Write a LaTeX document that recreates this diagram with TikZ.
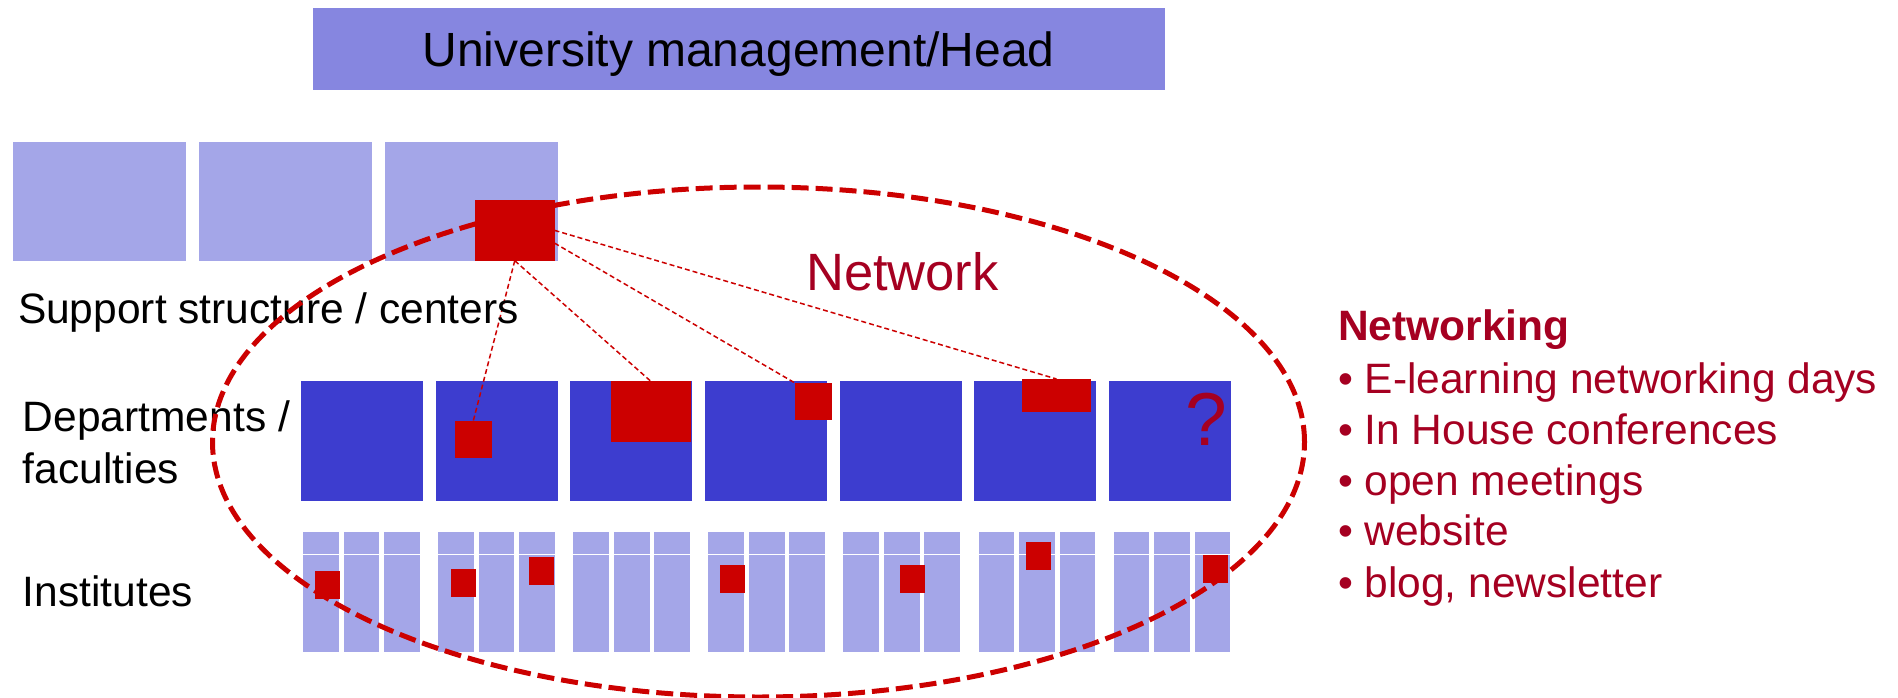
\documentclass[tikz,border=0pt]{standalone}
\usepackage{fontspec}
\setmainfont{Liberation Sans}
\usetikzlibrary{calc,shapes.geometric}
\definecolor{headblue}{RGB}{134,134,224}
\definecolor{lightblue}{RGB}{164,166,232}
\definecolor{deptblue}{RGB}{61,61,207}
\definecolor{netred}{RGB}{204,0,0}
\definecolor{darkred}{RGB}{165,0,33}
\begin{document}
\begin{tikzpicture}[x=1pt,y=-1pt,
  box/.style={inner sep=0pt,outer sep=0pt,anchor=north west,draw=none},
  headbox/.style={box,fill=headblue,minimum width=851.2pt,minimum height=81.7pt},
  supbox/.style={box,fill=lightblue,minimum width=172.8pt,minimum height=118.7pt},
  deptbox/.style={box,fill=deptblue,minimum width=122pt,minimum height=119.7pt},
  insttop/.style={box,fill=lightblue,minimum width=35.8pt,minimum height=21.6pt},
  instbot/.style={box,fill=lightblue,minimum width=35.8pt,minimum height=96.7pt},
  redsq/.style={box,fill=netred},
  instred/.style={redsq,minimum width=25pt,minimum height=27.7pt},
  link/.style={draw=netred,line width=1.5pt,dash pattern=on 5pt off 3pt},
  netellipse/.style={draw=netred,line width=5pt,dash pattern=on 17pt off 7pt,ellipse,inner sep=0pt,outer sep=0pt},
  lbl/.style={inner sep=0pt,outer sep=0pt,anchor=base west,font=\fontsize{42.5}{51}\selectfont},
  redlbl/.style={lbl,text=darkred}]
\useasboundingbox (0,0) rectangle (1898,698);
% head
\node[headbox] (head) at (313.3,8) {};
\node[inner sep=0pt,anchor=base,font=\fontsize{48}{58}\selectfont] (headtxt) at (738.5,66.7) {University management/Head};
% support structure
\node[supbox] (s1) at (12.7,142) {};
\node[supbox] (s2) at (198.8,142) {};
\node[supbox] (s3) at (384.8,142) {};
\node[redsq,minimum width=79.5pt,minimum height=60.7pt] (sr) at (475,200) {};
% departments
\foreach \k in {0,...,6}{
  \node[deptbox] (d\k) at ({301+134.67*\k},381) {};
}
\node[redsq,minimum width=36.5pt,minimum height=36.7pt] (d1r) at (455,421) {};
\node[redsq,minimum width=80pt,minimum height=61pt] (d2r) at (610.5,381) {};
\node[redsq,minimum width=36.5pt,minimum height=37pt] (d3r) at (795,383) {};
\node[redsq,minimum width=69pt,minimum height=33pt] (d5r) at (1022,379) {};
\node[inner sep=0pt,anchor=base,text=darkred,font=\fontsize{75}{80}\selectfont] (qm) at (1206,445) {?};
% institutes
\foreach \k in {0,...,6}{
  \foreach \j in {0,1,2}{
    \node[insttop] (it\k\j) at ({303+135.1*\k+40.5*\j},532) {};
    \node[instbot] (ib\k\j) at ({303+135.1*\k+40.5*\j},555) {};
  }
}
\node[instred] (r1) at (315,571) {};
\node[instred] (r2) at (451,569) {};
\node[instred] (r3) at (529,557) {};
\node[instred] (r4) at (720,565) {};
\node[instred] (r5) at (900,565) {};
\node[instred] (r6) at (1026,542) {};
\node[instred] (r7) at (1202.7,555) {};
% connectors
\draw[link] (sr.south) -- (d1r.north);
\draw[link] (sr.south) -- (d2r.north);
\draw[link] ($(sr.east)!0.42!(sr.south east)$) -- (d3r.north west);
\draw[link] (sr.east) -- (d5r.north);
% labels
\node[lbl] (suptxt) at (18,323) {Support structure / centers};
\node[lbl] (dep1) at (23,431.7) {Departments /};
\node[lbl] (dep2) at (23,483) {faculties};
\node[lbl] (insttxt) at (23,606.7) {Institutes};
\node[inner sep=0pt,anchor=base west,text=darkred,font=\fontsize{52.5}{60}\selectfont] (nettxt) at (806,290) {Network};
\node[redlbl,font=\fontsize{42.5}{51}\selectfont\bfseries] (nwh) at (1338,340.7) {Networking};
\node[redlbl] (b1) at (1338,393.3) {\textbullet\ E-learning networking days};
\node[redlbl] (b2) at (1338,444) {\textbullet\ In House conferences};
\node[redlbl] (b3) at (1338,495) {\textbullet\ open meetings};
\node[redlbl] (b4) at (1338,545) {\textbullet\ website};
\node[redlbl] (b5) at (1338,597) {\textbullet\ blog, newsletter};
% network ellipse
\node[netellipse,minimum width=1092pt,minimum height=510pt] (netw) at (758.5,442) {};
\end{tikzpicture}
\end{document}
